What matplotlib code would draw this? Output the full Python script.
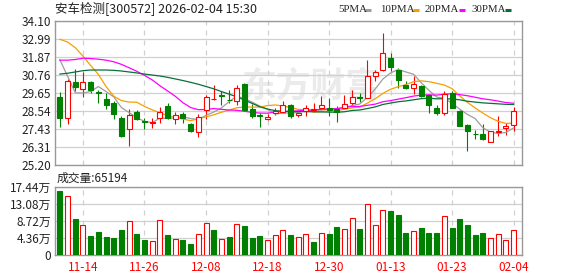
import matplotlib
matplotlib.use("Agg")
import matplotlib.pyplot as plt
from matplotlib.lines import Line2D

plt.rcParams["font.family"] = ["Noto Sans CJK SC", "DejaVu Sans"]

# trading days shown on the chart (2025-11-11 .. 2026-02-04)
dates = [
    "11-11", "11-12", "11-13", "11-14", "11-17", "11-18", "11-19", "11-20", "11-21", "11-24",
    "11-25", "11-26", "11-27", "11-28", "12-01", "12-02", "12-03", "12-04", "12-05", "12-08",
    "12-09", "12-10", "12-11", "12-12", "12-15", "12-16", "12-17", "12-18", "12-19", "12-22",
    "12-23", "12-24", "12-25", "12-26", "12-29", "12-30", "12-31", "01-05", "01-06", "01-07",
    "01-08", "01-09", "01-12", "01-13", "01-14", "01-15", "01-16", "01-19", "01-20", "01-21",
    "01-22", "01-23", "01-26", "01-27", "01-28", "01-29", "01-30", "02-02", "02-03", "02-04",
]
tick_dates = ["11-14", "11-26", "12-08", "12-18", "12-30", "01-13", "01-23", "02-04"]

opens = [
    29.42, 28.11, 30.33, 29.91, 30.35, 29.74, 29.25, 29.01, 28.09, 27.41,
    28.50, 27.90, 27.78, 28.09, 28.82, 28.07, 28.37, 27.76, 27.27, 28.60,
    29.25, 29.54, 29.23, 29.15, 30.23, 28.64, 28.27, 28.05, 28.41, 28.50,
    28.90, 28.27, 28.51, 28.57, 28.73, 28.75, 28.69, 28.75, 29.04, 29.41,
    29.36, 30.67, 31.08, 31.83, 31.10, 30.12, 29.98, 30.06, 29.53, 28.75,
    28.39, 29.67, 28.55, 27.67, 27.14, 27.10, 26.62, 27.21, 27.47, 27.67,
]
highs = [
    29.72, 30.54, 31.13, 30.97, 30.37, 29.82, 29.66, 29.15, 28.23, 28.68,
    28.58, 28.11, 28.09, 28.80, 29.01, 28.47, 28.47, 27.77, 28.33, 29.52,
    30.13, 29.80, 29.82, 30.17, 30.25, 28.95, 28.43, 28.35, 28.72, 29.18,
    28.96, 28.51, 28.90, 29.02, 29.45, 29.32, 28.86, 29.51, 29.83, 29.63,
    31.67, 31.06, 33.38, 32.13, 31.20, 30.40, 30.69, 30.12, 29.57, 28.88,
    29.77, 29.77, 28.61, 27.74, 27.39, 27.74, 27.29, 28.22, 27.82, 28.77,
]
lows = [
    27.56, 27.74, 29.80, 29.39, 29.62, 29.01, 28.64, 28.03, 26.92, 26.39,
    27.98, 27.43, 27.47, 27.82, 28.03, 27.76, 27.78, 27.25, 26.94, 28.03,
    29.20, 28.91, 29.01, 28.92, 28.54, 28.13, 27.56, 27.96, 28.27, 28.40,
    28.10, 28.18, 28.24, 28.49, 28.67, 28.24, 27.88, 28.69, 28.86, 29.12,
    29.32, 30.38, 31.03, 31.03, 29.98, 29.87, 29.61, 29.41, 28.43, 28.29,
    28.31, 28.71, 27.59, 26.07, 26.78, 26.77, 26.62, 27.00, 27.08, 27.31,
]
closes = [
    28.11, 30.42, 30.01, 30.31, 29.86, 29.64, 28.90, 28.35, 26.98, 28.31,
    28.03, 27.84, 27.88, 28.47, 28.13, 28.29, 28.13, 27.31, 28.19, 29.42,
    29.29, 29.44, 29.19, 29.97, 28.60, 28.22, 28.21, 28.19, 28.52, 28.90,
    28.24, 28.39, 28.73, 28.69, 28.90, 28.63, 28.47, 28.99, 29.39, 29.37,
    30.73, 30.95, 32.11, 31.28, 30.44, 29.98, 30.22, 29.49, 28.92, 28.39,
    29.57, 28.75, 27.63, 27.29, 27.10, 26.78, 27.29, 27.29, 27.59, 28.51,
]
# volume in 万 (10k)
volumes = [
    16.36, 15.10, 9.20, 7.60, 4.90, 5.90, 4.65, 4.40, 6.40, 8.65,
    5.40, 4.00, 3.60, 9.00, 5.20, 4.15, 4.00, 2.95, 5.35, 8.20,
    6.40, 4.15, 4.65, 7.90, 7.45, 4.40, 4.90, 3.90, 5.10, 6.40,
    5.20, 4.60, 5.35, 3.40, 5.60, 5.40, 7.20, 6.60, 9.40, 6.70,
    13.00, 7.60, 11.45, 11.30, 10.25, 5.70, 6.20, 6.95, 5.70, 5.70,
    9.90, 6.95, 9.25, 7.70, 5.20, 5.70, 4.30, 5.35, 3.90, 6.52,
]
# 1 = red (up) volume bar, 0 = green
vol_up = [
    0, 1, 0, 1, 0, 0, 0, 0, 0, 1,
    0, 0, 1, 1, 0, 1, 0, 0, 1, 1,
    0, 1, 0, 1, 0, 0, 0, 1, 1, 1,
    0, 1, 1, 0, 1, 0, 0, 1, 1, 0,
    1, 1, 1, 0, 0, 0, 1, 0, 0, 0,
    1, 0, 0, 0, 0, 0, 1, 1, 1, 1,
]

ma5 = [
    31.70, 30.68, 29.66, 29.65, 29.74, 30.05, 29.74, 29.41, 28.75, 28.44,
    28.11, 27.90, 27.81, 28.11, 28.07, 28.12, 28.18, 28.07, 28.01, 28.27,
    28.47, 28.73, 29.11, 29.46, 29.30, 29.08, 28.84, 28.64, 28.35, 28.41,
    28.41, 28.45, 28.56, 28.59, 28.59, 28.67, 28.68, 28.74, 28.88, 28.97,
    29.39, 29.89, 30.51, 30.89, 31.10, 30.95, 30.81, 30.28, 29.81, 29.40,
    29.32, 29.02, 28.65, 28.33, 28.07, 27.51, 27.22, 27.15, 27.21, 27.49,
]
ma10 = [
    32.97, 32.80, 32.45, 31.93, 31.35, 30.80, 30.05, 29.45, 29.18, 29.09,
    29.08, 28.82, 28.61, 28.43, 28.25, 28.12, 28.04, 27.94, 28.06, 28.17,
    28.30, 28.46, 28.59, 28.74, 28.78, 28.78, 28.78, 28.87, 28.91, 28.85,
    28.75, 28.64, 28.60, 28.47, 28.50, 28.54, 28.57, 28.65, 28.73, 28.78,
    29.03, 29.29, 29.62, 29.88, 30.04, 30.17, 30.35, 30.40, 30.35, 30.25,
    30.14, 29.92, 29.47, 29.07, 28.73, 28.41, 28.12, 27.90, 27.77, 27.78,
]
ma20 = [
    31.68, 31.68, 31.72, 31.80, 31.78, 31.74, 31.68, 31.58, 31.42, 31.21,
    30.99, 30.74, 30.46, 30.10, 29.78, 29.45, 29.05, 28.75, 28.62, 28.63,
    28.69, 28.64, 28.60, 28.58, 28.52, 28.45, 28.41, 28.40, 28.48, 28.51,
    28.52, 28.55, 28.59, 28.60, 28.64, 28.66, 28.68, 28.76, 28.82, 28.82,
    28.89, 28.96, 29.11, 29.18, 29.27, 29.36, 29.46, 29.52, 29.54, 29.52,
    29.58, 29.60, 29.55, 29.48, 29.39, 29.29, 29.23, 29.15, 29.06, 29.02,
]
ma30 = [
    30.82, 30.87, 30.95, 31.03, 31.07, 31.07, 31.07, 31.05, 31.01, 30.95,
    30.89, 30.82, 30.76, 30.70, 30.62, 30.52, 30.42, 30.31, 30.19, 30.05,
    29.91, 29.74, 29.58, 29.42, 29.21, 29.01, 28.80, 28.66, 28.56, 28.52,
    28.50, 28.50, 28.50, 28.49, 28.48, 28.47, 28.46, 28.49, 28.57, 28.60,
    28.69, 28.79, 28.94, 29.03, 29.11, 29.16, 29.23, 29.30, 29.33, 29.29,
    29.30, 29.28, 29.23, 29.14, 29.09, 29.04, 29.01, 28.98, 28.95, 28.94,
]

price_ticks = [25.20, 26.3125, 27.425, 28.5375, 29.65, 30.7625, 31.875, 32.9875, 34.10]
price_labels = ["25.20", "26.31", "27.43", "28.54", "29.65", "30.76", "31.87", "32.99", "34.10"]
vol_ticks = [0, 4.36, 8.72, 13.08, 17.44]
vol_labels = ["0", "4.36万", "8.72万", "13.08万", "17.44万"]

title = "安车检测[300572] 2026-02-04 15:30"
vol_title = "成交量:65194"
ma_names = ["5PMA", "10PMA", "20PMA", "30PMA"]

RED = "#ff0000"
GREEN = "#008000"
GRID = "#d0d0d0"
FRAME = "#999999"
MA_COLORS = ["#9e9e9e", "#f5a000", "#ff00ff", "#07703a"]

W, H = 578, 276
fig = plt.figure(figsize=(W / 100, H / 100), dpi=100)
ax = fig.add_axes([55 / W, 1 - 165 / H, 467 / W, 144 / H])
vax = fig.add_axes([55 / W, 1 - 255.3 / H, 467 / W, 68.6 / H])

xs = list(range(len(dates)))
tick_pos = [dates.index(d) for d in tick_dates]
body_w = 0.65

ax.text(0.55, 0.55, "东方财富", transform=ax.transAxes, ha="center", va="center",
        fontsize=25, fontweight="bold", color="#ebebeb", zorder=0)

# candles
for i in xs:
    o, h, l, c = opens[i], highs[i], lows[i], closes[i]
    up = c >= o
    col = RED if up else GREEN
    ax.vlines(i, l, h, color=col, lw=0.8, zorder=2)
    ax.bar(i, max(abs(c - o), 0.02), bottom=min(o, c), width=body_w,
           facecolor="white" if up else GREEN, edgecolor=col, lw=0.8, zorder=4)

for vals, color in zip([ma5, ma10, ma20, ma30], MA_COLORS):
    ax.plot(xs, vals, color=color, lw=0.9, zorder=3)

# volume
for i in xs:
    col = RED if vol_up[i] else GREEN
    vax.bar(i, volumes[i], width=body_w, facecolor="white" if vol_up[i] else GREEN,
            edgecolor=col, lw=0.8, zorder=3)

for a in (ax, vax):
    a.set_xlim(-0.64, 60.1)
    a.set_xticks(tick_pos)
    a.grid(True, axis="y", color=GRID, lw=0.9, ls="-", zorder=0)
    a.grid(True, axis="x", color=GRID, lw=0.9, ls=(0, (4, 4)), zorder=0)
    a.set_axisbelow(True)
    a.tick_params(length=0, labelsize=8.5, labelcolor="#222222", pad=3)
    for s in a.spines.values():
        s.set_color(FRAME)
        s.set_linewidth(1.0)

ax.set_ylim(25.20, 34.10)
ax.set_yticks(price_ticks)
ax.set_yticklabels(price_labels)
ax.set_xticklabels([])

vax.set_ylim(0, 17.44)
vax.set_yticks(vol_ticks)
vax.set_yticklabels(vol_labels)
vax.set_xticklabels(tick_dates)
vax.tick_params(axis="x", labelcolor=RED, pad=4)

fig.text(55 / W, 1 - 9.5 / H, title, ha="left", va="center", fontsize=9, color="#222222")
fig.text(57 / W, 1 - 178 / H, vol_title, ha="left", va="center", fontsize=8.5, color="#222222")

# legend along the top right
label_x = [338.5, 380, 425, 471.5]
dash_x = [365, 413, 459, 505]
for name, lx, dx, color in zip(ma_names, label_x, dash_x, MA_COLORS):
    fig.text(lx / W, 1 - 9.5 / H, name, ha="left", va="center", fontsize=7.8,
             family="Liberation Serif", color="#222222")
    fig.add_artist(Line2D([dx / W, (dx + 6) / W], [1 - 9.5 / H, 1 - 9.5 / H],
                          transform=fig.transFigure, color=color, lw=2.2,
                          solid_capstyle="butt"))

fig.savefig("out.png", dpi=100)
